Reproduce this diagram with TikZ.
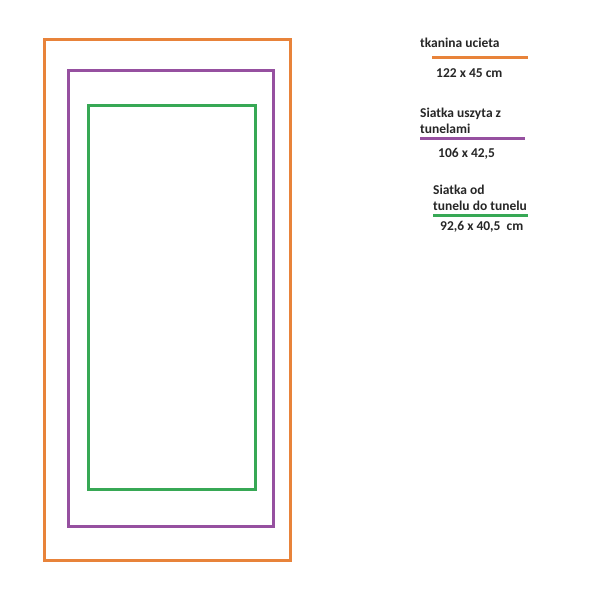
\documentclass[tikz,border=0pt]{standalone}
\usepackage{fontspec}
\setmainfont{Carlito}
\definecolor{cOrange}{RGB}{232,131,58}
\definecolor{cPurple}{RGB}{150,80,160}
\definecolor{cGreen}{RGB}{55,168,85}
\begin{document}
\begin{tikzpicture}[x=1pt,y=-1pt,
  frame/.style={line width=3pt},
  legline/.style={line width=3pt},
  lab/.style={font=\bfseries\fontsize{13.5}{15}\selectfont, anchor=west, inner sep=0pt, text=black!85}]
\useasboundingbox (0,0) rectangle (600,600);
\draw[frame, cOrange] (44.5,39) rectangle (290.5,560.5);
\draw[frame, cPurple] (68.5,70.5) rectangle (273.5,526.5);
\draw[frame, cGreen] (88,105) rectangle (255,489);
% legend
\node[lab] (t1) at (420,43) {tkanina ucieta};
\coordinate (o1) at (432,57);
\coordinate (o2) at (528,57);
\draw[legline, cOrange] (o1) -- (o2);
\node[lab] (d1) at (436,73) {122 x 45 cm};
\node[lab] (t2a) at (420,114) {Siatka uszyta z};
\node[lab] (t2b) at (420,129) {tunelami};
\coordinate (p1) at (420,138);
\coordinate (p2) at (525,138);
\draw[legline, cPurple] (p1) -- (p2);
\node[lab] (d2) at (438,154) {106 x 42,5};
\node[lab] (t3a) at (433,190) {Siatka od};
\node[lab] (t3b) at (433,206) {tunelu do tunelu};
\coordinate (g1) at (433,215);
\coordinate (g2) at (528,215);
\draw[legline, cGreen] (g1) -- (g2);
\node[lab] (d3) at (440,227) {92,6 x 40,5\ \ cm};
\end{tikzpicture}
\end{document}
